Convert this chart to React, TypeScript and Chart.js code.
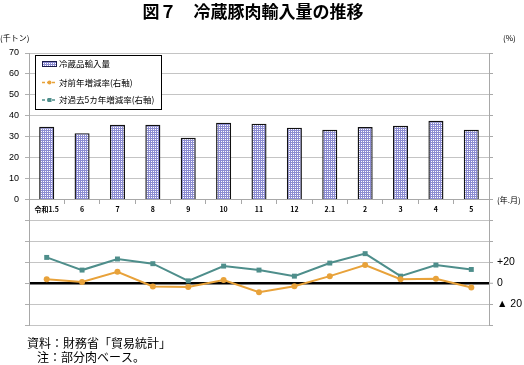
import React, { useEffect, useRef } from 'react';
import { Chart, registerables } from 'chart.js';

Chart.register(...registerables);

const categories = ['令和1.5', '6', '7', '8', '9', '10', '11', '12', '2.1', '2', '3', '4', '5'];
const importVolume = [34.7, 31.7, 35.7, 35.7, 29.5, 36.7, 36.2, 34.3, 33.3, 34.6, 35.2, 37.6, 33.3];
const yoyChange = [3.8, 1.2, 10.9, -3.2, -3.6, 2.9, -8.7, -2.9, 6.7, 17.3, 3.8, 4.1, -4.2];
const vsFiveYearAvg = [24.6, 12.5, 23.1, 18.6, 2.2, 16.3, 12.5, 6.7, 19.2, 28.2, 6.7, 17.3, 13.1];

const seriesNames = ['冷蔵品輸入量', '対前年増減率(右軸)', '対過去5カ年増減率(右軸)'];
const titleText = '図７　冷蔵豚肉輸入量の推移';
const leftUnit = '(千トン)';
const rightUnit = '(%)';
const xUnit = '(年.月)';
const notes = ['資料：財務省「貿易統計」', '注：部分肉ベース。'];
const rightLabels: Record<number, string> = { 20: '+20', 0: '0', [-20]: '▲ 20' };

const ORANGE = '#E8A23A';
const TEAL = '#4E8E8B';
const JP = '"Noto Sans CJK JP", sans-serif';
const LAT = '"Liberation Sans", Arial, sans-serif';

function makePattern(): CanvasPattern | string {
  const c = document.createElement('canvas');
  c.width = 2;
  c.height = 2;
  const g = c.getContext('2d');
  if (!g) return '#a8a8dc';
  g.fillStyle = '#ffffff';
  g.fillRect(0, 0, 2, 2);
  g.fillStyle = '#8c8cd2';
  g.fillRect(0, 0, 2, 1);
  g.fillRect(0, 0, 1, 2);
  const p = g.createPattern(c, 'repeat');
  return p || '#a8a8dc';
}

const decorPlugin = {
  id: 'decor',
  afterDraw(chart: any, _args: any, opts: any) {
    const ctx: CanvasRenderingContext2D = chart.ctx;
    ctx.save();
    ctx.fillStyle = '#000';
    ctx.textBaseline = 'middle';
    ctx.textAlign = 'center';
    ctx.font = `bold 17px ${JP}`;
    ctx.fillText(titleText, 253, 12);
    ctx.font = `8px ${JP}`;
    ctx.textAlign = 'left';
    ctx.fillText(leftUnit, 0, 38);
    ctx.fillText(rightUnit, 503, 38);
    ctx.fillText(xUnit, 497, 200);
    ctx.font = `12px ${JP}`;
    ctx.fillText(notes[0], 27, 343);
    ctx.fillText(notes[1], 37, 357);

    const bx = 35.5, by = 55.5, bw = 126, bh = 54;
    ctx.fillStyle = '#fff';
    ctx.fillRect(bx, by, bw, bh);
    ctx.strokeStyle = '#000';
    ctx.lineWidth = 1;
    ctx.strokeRect(bx, by, bw, bh);

    const sx0 = 42, sx1 = 57;
    const rows = [64, 82.5, 100];
    ctx.fillStyle = opts.pattern;
    ctx.fillRect(sx0, rows[0] - 3, sx1 - sx0, 6);
    ctx.strokeStyle = '#1a1a4a';
    ctx.strokeRect(sx0 + 0.5, rows[0] - 2.5, sx1 - sx0 - 1, 5);
    ctx.strokeStyle = ORANGE;
    ctx.lineWidth = 1.5;
    ctx.setLineDash([3, 2]);
    ctx.beginPath();
    ctx.moveTo(sx0, rows[1]);
    ctx.lineTo(sx1, rows[1]);
    ctx.stroke();
    ctx.setLineDash([]);
    ctx.fillStyle = ORANGE;
    ctx.beginPath();
    ctx.arc((sx0 + sx1) / 2, rows[1], 2, 0, Math.PI * 2);
    ctx.fill();
    ctx.strokeStyle = TEAL;
    ctx.setLineDash([3, 2]);
    ctx.beginPath();
    ctx.moveTo(sx0, rows[2]);
    ctx.lineTo(sx1, rows[2]);
    ctx.stroke();
    ctx.setLineDash([]);
    ctx.fillStyle = TEAL;
    ctx.fillRect((sx0 + sx1) / 2 - 2, rows[2] - 2, 4, 4);

    ctx.fillStyle = '#000';
    ctx.font = `8.5px ${JP}`;
    ctx.textAlign = 'left';
    seriesNames.forEach((n, i) => ctx.fillText(n, 59, rows[i]));
    ctx.restore();
  },
};

export default function App() {
  const ref = useRef<HTMLCanvasElement>(null);
  useEffect(() => {
    if (!ref.current) return;
    const pattern = makePattern();
    const chart = new Chart(ref.current, {
      type: 'bar',
      data: {
        labels: categories,
        datasets: [
          {
            type: 'line',
            label: seriesNames[1],
            data: yoyChange,
            yAxisID: 'y1',
            borderColor: ORANGE,
            backgroundColor: ORANGE,
            borderWidth: 2,
            pointStyle: 'circle',
            pointRadius: 3,
            pointBorderWidth: 0,
            tension: 0,
            order: 0,
          } as any,
          {
            type: 'line',
            label: seriesNames[2],
            data: vsFiveYearAvg,
            yAxisID: 'y1',
            borderColor: TEAL,
            backgroundColor: TEAL,
            borderWidth: 2,
            pointStyle: 'rect',
            pointRadius: 3.5,
            pointBorderWidth: 0,
            tension: 0,
            order: 0,
          } as any,
          {
            type: 'bar',
            label: seriesNames[0],
            data: importVolume,
            yAxisID: 'y',
            backgroundColor: pattern as any,
            borderColor: '#111',
            borderWidth: 1.4,
            barPercentage: 0.85,
            categoryPercentage: 0.5,
            order: 1,
          } as any,
        ],
      },
      options: {
        responsive: false,
        animation: false,
        devicePixelRatio: 1,
        layout: { padding: { top: 53, bottom: 40, left: 0, right: 0 } },
        plugins: {
          legend: { display: false },
          title: { display: false },
          tooltip: { enabled: false },
          decor: { pattern },
        } as any,
        scales: {
          x: {
            type: 'category',
            position: { y: 0 } as any,
            afterFit: (s: any) => { s.height = 0; },
            grid: {
              display: true,
              drawOnChartArea: false,
              drawTicks: true,
              tickLength: 4,
              color: '#a8a8a8',
              offset: true,
            },
            border: { display: true, color: '#a8a8a8', width: 1 },
            ticks: {
              color: '#000',
              font: { family: JP, size: 7, weight: 'bold' },
              padding: 2,
              maxRotation: 0,
              autoSkip: false,
            },
          },
          y: {
            position: 'left',
            min: -60,
            max: 70,
            afterFit: (s: any) => { s.width = 29; },
            grid: { drawOnChartArea: false, drawTicks: true, tickLength: 4, color: '#b0b0b0' },
            border: { display: true, color: '#a8a8a8' },
            ticks: {
              stepSize: 10,
              color: '#000',
              font: { family: LAT, size: 9 },
              padding: 6,
              callback: (v: any) => (Number(v) >= 0 ? String(v) : ''),
            },
          },
          y1: {
            position: 'right',
            min: -40,
            max: 220,
            afterFit: (s: any) => { s.width = 35; },
            grid: {
              drawOnChartArea: true,
              drawTicks: true,
              tickLength: 4,
              color: (c: any) => (c.tick && c.tick.value === 0 ? '#000' : '#c4c4c4'),
              lineWidth: (c: any) => (c.tick && c.tick.value === 0 ? 2.5 : 1),
              tickColor: '#a8a8a8',
              tickWidth: 1,
            } as any,
            border: { display: true, color: '#a8a8a8' },
            ticks: {
              stepSize: 20,
              color: '#000',
              font: { family: LAT, size: 10.5 },
              padding: 4,
              callback: (v: any) => (rightLabels[Number(v)] ?? ''),
            },
          },
        },
      } as any,
      plugins: [decorPlugin],
    });
    return () => chart.destroy();
  }, []);
  return (
    <div style={{ position: 'absolute', left: 0, top: 0, width: 524, height: 365, background: '#fff' }}>
      <canvas ref={ref} width={524} height={365} style={{ display: 'block' }} />
    </div>
  );
}
